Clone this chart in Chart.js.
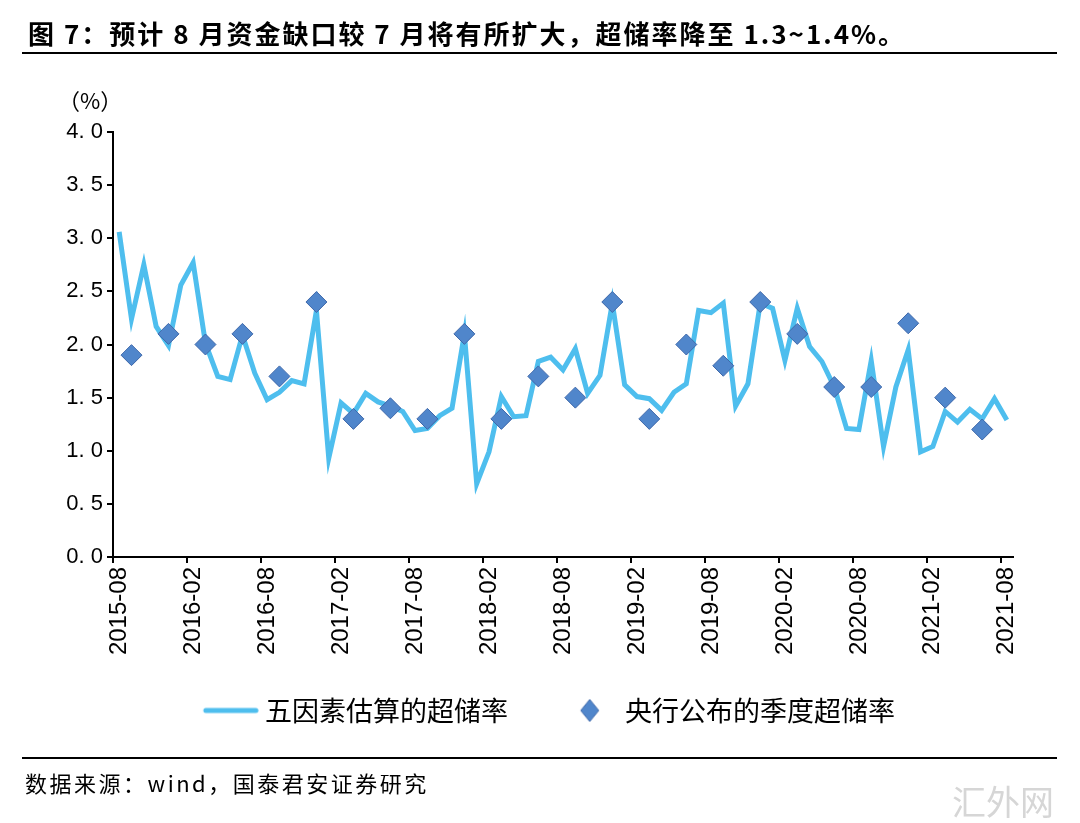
<!DOCTYPE html>
<html>
<head>
<meta charset="utf-8">
<script src="https://cdn.jsdelivr.net/npm/chart.js@4.4.1/dist/chart.umd.min.js"></script>
<style>
  html, body { margin: 0; padding: 0; background: #fff; }
  #wrap { position: relative; width: 1080px; height: 823px; overflow: hidden; }
  #chart { position: absolute; left: 0; top: 0; }
  .txt { position: absolute; color: #000; white-space: nowrap; font-family: "Noto Sans CJK SC", sans-serif; }
  .rule { position: absolute; left: 22px; width: 1035px; background: #000; }
</style>
</head>
<body>
<div id="wrap">
  <canvas id="chart" width="1080" height="823"></canvas>
  <div class="txt" style="left:28px; top:14px; font-size:26px; font-weight:bold; letter-spacing:2px;">图 7：预计 8 月资金缺口较 7 月将有所扩大，超储率降至 1.3~1.4%。</div>
  <div class="rule" style="top:52px; height:2px;"></div>
  <div class="txt" style="left:58px; top:83px; font-size:22px;">（%）</div>
  <div class="rule" style="top:757px; height:2px;"></div>
  <div class="txt" style="left:25px; top:766px; font-size:22px; letter-spacing:2.5px;">数据来源：wind，国泰君安证券研究</div>
  <div class="txt" style="left:952px; top:776px; font-size:34px; color:#d6d6d6;">汇外网</div>
</div>
<script>
// months 2015-08 .. 2021-08
var Months = []
for (var y = 2015; y <= 2021; y++) {
    for (var m = 1; m <= 12; m++) {
        if (y == 2015 && m < 8) continue
        if (y == 2021 && m > 8) continue
        Months.push(y + '-' + (m < 10 ? '0' + m : m))
    }
}

// 五因素估算的超储率 (monthly)
var EstimateRate = [
    3.06, 2.24, 2.75, 2.17, 1.99, 2.56, 2.77, 2.01, 1.70, 1.67,
    2.09, 1.73, 1.48, 1.55, 1.66, 1.63, 2.32, 0.93, 1.45, 1.35,
    1.54, 1.46, 1.42, 1.37, 1.19, 1.21, 1.33, 1.40, 2.10, 0.69,
    0.99, 1.51, 1.32, 1.33, 1.84, 1.88, 1.76, 1.96, 1.54, 1.71,
    2.39, 1.62, 1.51, 1.49, 1.38, 1.55, 1.63, 2.32, 2.30, 2.39,
    1.42, 1.63, 2.39, 2.34, 1.85, 2.34, 1.98, 1.84, 1.60, 1.21,
    1.20, 1.85, 1.04, 1.60, 1.95, 0.99, 1.04, 1.37, 1.27, 1.39,
    1.30, 1.49, 1.29
]

// 央行公布的季度超储率
var QuarterMonths = [
    '2015-09', '2015-12', '2016-03', '2016-06', '2016-09', '2016-12',
    '2017-03', '2017-06', '2017-09', '2017-12', '2018-03', '2018-06',
    '2018-09', '2018-12', '2019-03', '2019-06', '2019-09', '2019-12',
    '2020-03', '2020-06', '2020-09', '2020-12', '2021-03', '2021-06'
]
var QuarterRate = [
    1.9, 2.1, 2.0, 2.1, 1.7, 2.4,
    1.3, 1.4, 1.3, 2.1, 1.3, 1.7,
    1.5, 2.4, 1.3, 2.0, 1.8, 2.4,
    2.1, 1.6, 1.6, 2.2, 1.5, 1.2
]

var YTicks = [0, 0.5, 1, 1.5, 2, 2.5, 3, 3.5, 4]

var LineColor = 'rgb(78,190,238)'
var DiamondFill = 'rgb(80,134,203)'
var DiamondBorder = 'rgb(62,104,170)'

var QuarterPoints = []
for (var i = 0; i < QuarterMonths.length; i++) {
    QuarterPoints.push({ x: QuarterMonths[i], y: QuarterRate[i] })
}

// legend symbols (drawn off the box centre so spacing matches the original)
var LegendLine = document.createElement('canvas')
LegendLine.width = 108
LegendLine.height = 8
var lc = LegendLine.getContext('2d')
lc.strokeStyle = LineColor
lc.lineWidth = 5
lc.lineCap = 'round'
lc.beginPath()
lc.moveTo(55, 4)
lc.lineTo(105, 4)
lc.stroke()

var LegendDiamond = document.createElement('canvas')
LegendDiamond.width = 70
LegendDiamond.height = 26
var dc = LegendDiamond.getContext('2d')
dc.fillStyle = DiamondFill
dc.strokeStyle = DiamondBorder
dc.lineWidth = 1
dc.beginPath()
dc.moveTo(60, 2)
dc.lineTo(69, 13)
dc.lineTo(60, 24)
dc.lineTo(51, 13)
dc.closePath()
dc.fill()
dc.stroke()

var config = {
    type: 'line',
    data: {
        labels: Months,
        datasets: [
            {
                label: '央行公布的季度超储率',
                data: QuarterPoints,
                showLine: false,
                pointStyle: 'rectRot',
                pointRadius: 10.5,
                pointHoverRadius: 10.5,
                backgroundColor: DiamondFill,
                borderColor: DiamondBorder,
                pointBorderWidth: 1,
            },
            {
                label: '五因素估算的超储率',
                data: EstimateRate,
                borderColor: LineColor,
                backgroundColor: LineColor,
                borderWidth: 5,
                tension: 0,
                pointRadius: 0,
                pointHoverRadius: 0,
            },
        ],
    },
    options: {
        responsive: false,
        animation: false,
        layout: {
            padding: { left: 40, right: 67, top: 132, bottom: 89 }
        },
        plugins: {
            tooltip: { enabled: false },
            legend: {
                position: 'bottom',
                labels: {
                    usePointStyle: true,
                    pointStyleWidth: 93.5,
                    boxHeight: 11,
                    padding: 10,
                    color: '#000',
                    font: { family: '"Noto Sans CJK SC", sans-serif', size: 27 },
                    sort: function (a, b) { return b.datasetIndex - a.datasetIndex },
                    generateLabels: function (chart) {
                        var items = Chart.defaults.plugins.legend.labels.generateLabels(chart)
                        items.forEach(function (it) {
                            it.pointStyle = it.datasetIndex == 1 ? LegendLine : LegendDiamond
                        })
                        return items
                    },
                },
            },
        },
        scales: {
            x: {
                type: 'category',
                offset: true,
                grid: {
                    offset: true,
                    drawOnChartArea: false,
                    tickLength: 6,
                    lineWidth: 2,
                    color: function (ctx) { return ctx.index % 6 == 0 ? '#000' : 'rgba(0,0,0,0)' },
                },
                border: { color: '#000', width: 2 },
                ticks: {
                    autoSkip: false,
                    minRotation: 90,
                    maxRotation: 90,
                    padding: 4,
                    color: '#000',
                    font: { family: '"Liberation Sans", Arial, sans-serif', size: 24 },
                    callback: function (v, idx) { return idx % 6 == 0 ? Months[idx] : '' },
                },
                afterFit: function (scale) { scale.height = 130 },
            },
            y: {
                min: 0,
                max: 4,
                afterBuildTicks: function (scale) {
                    scale.ticks = YTicks.map(function (v) { return { value: v } })
                },
                grid: {
                    drawOnChartArea: false,
                    tickLength: 6,
                    lineWidth: 2,
                    color: '#000',
                },
                border: { color: '#000', width: 2 },
                ticks: {
                    padding: 4,
                    color: '#000',
                    font: { family: '"Liberation Sans", Arial, sans-serif', size: 22 },
                    callback: function (v) { return v.toFixed(1).replace('.', '. ') },
                },
                afterFit: function (scale) { scale.width = 73 },
            },
        },
    },
}

new Chart(document.getElementById('chart').getContext('2d'), config)
</script>
</body>
</html>
